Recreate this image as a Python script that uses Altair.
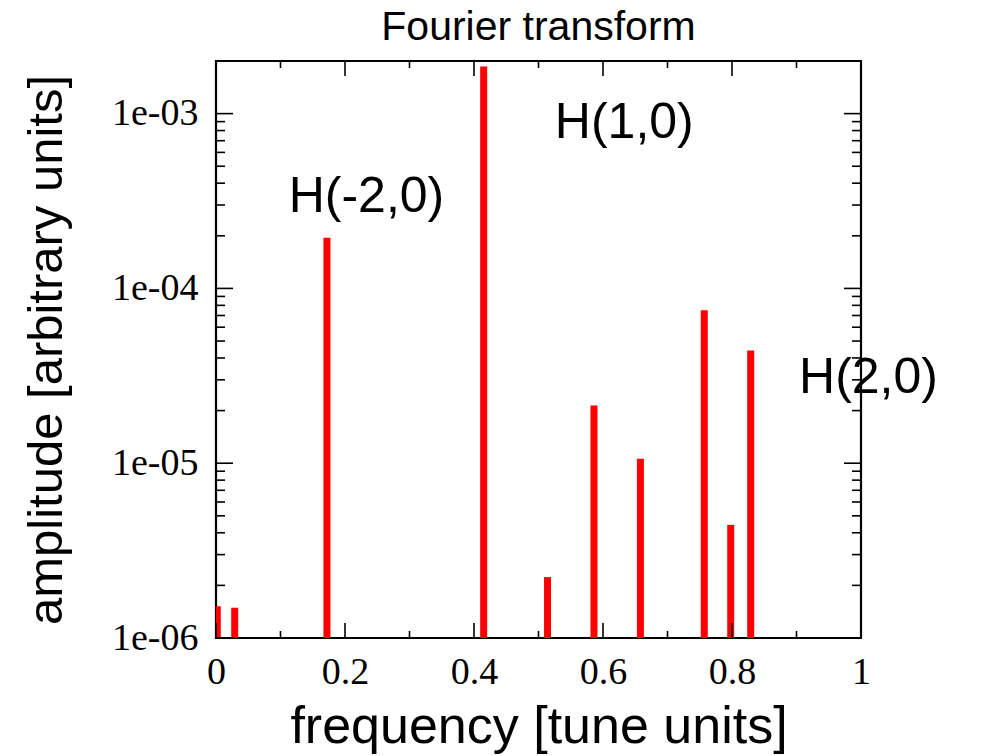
import altair as alt
import pandas as pd

# ---- data ----
freq = [0.002, 0.029, 0.172, 0.415, 0.514, 0.586, 0.658, 0.757, 0.798, 0.829]
amp = [1.52e-6, 1.49e-6, 1.95e-4, 1.86e-3, 2.23e-6, 2.14e-5, 1.06e-5, 7.5e-5, 4.44e-6, 4.42e-5]

label_text = ["H(-2,0)", "H(1,0)", "H(2,0)"]
label_x = [0.2333, 0.633, 1.0116]
label_y = [2.73e-4, 7.3e-4, 2.51e-5]

x_major = [0, 0.2, 0.4, 0.6, 0.8, 1.0]
x_minor = [0.1, 0.3, 0.5, 0.7, 0.9]
y_major = [1e-6, 1e-5, 1e-4, 1e-3]
y_minor = [m * d for d in [1e-6, 1e-5, 1e-4] for m in range(2, 10)]

W, H = 645, 577
Y_BASE = 1e-6

bars = pd.DataFrame({"freq": freq, "amp": amp, "base": [Y_BASE] * len(freq)})
labels = pd.DataFrame({"text": label_text, "x": label_x, "y": label_y})
xmaj = pd.DataFrame({"v": x_major})
xmin = pd.DataFrame({"v": x_minor})
ymaj = pd.DataFrame({"v": y_major})
ymin = pd.DataFrame({"v": y_minor})

xscale = alt.Scale(domain=[0, 1], nice=False, zero=False)
yscale = alt.Scale(type="log", domain=[1e-6, 2e-3], nice=False)

x_axis = alt.Axis(
    values=x_major, format="~g", ticks=False, tickSize=0, domain=False, grid=False,
    labelFont="Liberation Serif", labelFontSize=38, labelColor="black", labelPadding=15,
    labelFlush=False, title="frequency [tune units]", titleFont="Liberation Sans",
    titleFontSize=52, titleFontWeight="normal", titleColor="black",
    titleBaseline="alphabetic", titleY=104, titleX=W / 2,
)
y_axis = alt.Axis(
    values=y_major, labelExpr="'1e-0' + round(-log(datum.value) / LN10)",
    ticks=False, tickSize=0, domain=False, grid=False,
    labelFont="Liberation Serif", labelFontSize=38, labelColor="black", labelPadding=18,
    labelFlush=False, title="amplitude [arbitrary units]", titleFont="Liberation Sans",
    titleFontSize=49, titleFontWeight="normal", titleColor="black",
    titleAngle=270, titleBaseline="alphabetic", titleX=-155, titleY=H / 2, titleAlign="center",
)

spikes = alt.Chart(bars).mark_rule(color="#ff0000", strokeWidth=7, clip=True).encode(
    x=alt.X("freq:Q", scale=xscale, axis=x_axis),
    y=alt.Y("amp:Q", scale=yscale, axis=y_axis),
    y2="base:Q",
)

text = alt.Chart(labels).mark_text(
    font="Liberation Sans", fontSize=50, color="black", align="center", baseline="alphabetic"
).encode(
    x=alt.X("x:Q", scale=xscale),
    y=alt.Y("y:Q", scale=yscale),
    text="text:N",
)

tick_style = dict(color="black", strokeWidth=1.6)


def xticks(df, length):
    bottom = alt.Chart(df).mark_rule(**tick_style).encode(
        x=alt.X("v:Q", scale=xscale), y=alt.value(H), y2=alt.value(H - length)
    )
    top = alt.Chart(df).mark_rule(**tick_style).encode(
        x=alt.X("v:Q", scale=xscale), y=alt.value(0), y2=alt.value(length)
    )
    return bottom + top


def yticks(df, length):
    left = alt.Chart(df).mark_rule(**tick_style).encode(
        y=alt.Y("v:Q", scale=yscale), x=alt.value(0), x2=alt.value(length)
    )
    right = alt.Chart(df).mark_rule(**tick_style).encode(
        y=alt.Y("v:Q", scale=yscale), x=alt.value(W), x2=alt.value(W - length)
    )
    return left + right


chart = alt.layer(
    spikes,
    xticks(xmaj, 15), xticks(xmin, 7),
    yticks(ymaj, 17), yticks(ymin, 9),
    text,
).properties(
    width=W, height=H,
    title=alt.TitleParams(
        "Fourier transform", font="Liberation Sans", fontSize=41, fontWeight="normal",
        color="black", anchor="middle", baseline="alphabetic", offset=18, dy=39, frame="group",
    ),
    autosize=alt.AutoSizeParams(type="none"),
    padding={"left": 216, "top": 61, "right": 139, "bottom": 118},
    background="white",
).configure_view(
    stroke="black", strokeWidth=2.2
)

chart.save("out.html", embed_options={"renderer": "svg", "actions": False})
